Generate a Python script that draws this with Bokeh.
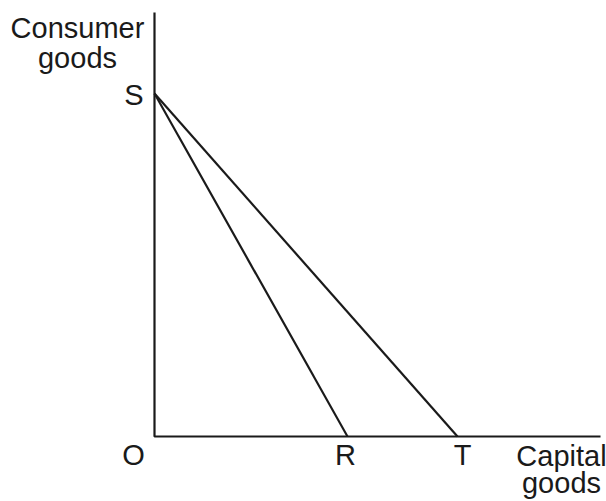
from bokeh.plotting import figure
from bokeh.models import Range1d
from bokeh.embed import file_html
from bokeh.resources import INLINE
from bokeh.core.properties import value

# Data (in diagram units)
points = ["O", "S", "R", "T"]
s_intercept = 343      # S on consumer-goods axis
r_intercept = 193      # R on capital-goods axis
t_intercept = 303      # T on capital-goods axis
y_axis_top = 424
x_axis_end = 446
y_axis_title = ["Consumer", "goods"]
x_axis_title = ["Capital", "goods"]

W, H = 606, 501
p = figure(width=W, height=H, output_backend="svg", toolbar_location=None,
           x_range=Range1d(-154, W - 154), y_range=Range1d(436 - H, 436),
           min_border=0)
p.axis.visible = False
p.grid.visible = False
p.outline_line_color = None
p.background_fill_color = "white"
p.border_fill_color = "white"

col = "#1a1a1a"
lw = 2.2
# axes
p.line([0, 0, x_axis_end], [y_axis_top, 0, 0], line_color=col, line_width=lw)
# PPF lines
p.line([0, r_intercept], [s_intercept, 0], line_color=col, line_width=lw)
p.line([0, t_intercept], [s_intercept, 0], line_color=col, line_width=lw)

font = value("Liberation Sans")
fs = "29px"
common = dict(text_baseline="alphabetic", text_font=font, text_font_size=fs, text_color=col)
dy = 9
# point labels
p.text(x=[-21], y=[-27 + dy], text=["O"], text_align="center", **common)
p.text(x=[-11], y=[s_intercept - 10 + dy], text=["S"], text_align="right", **common)
p.text(x=[r_intercept - 2], y=[-27 + dy], text=["R"], text_align="center", **common)
p.text(x=[t_intercept + 5], y=[-27 + dy], text=["T"], text_align="center", **common)
# axis titles
p.text(x=[-77, -77], y=[400 + dy, 370 + dy], text=y_axis_title, text_align="center", **common)
p.text(x=[407, 407], y=[-28 + dy, -55 + dy], text=x_axis_title, text_align="center", **common)

open("out.html", "w").write(file_html(p, INLINE))
